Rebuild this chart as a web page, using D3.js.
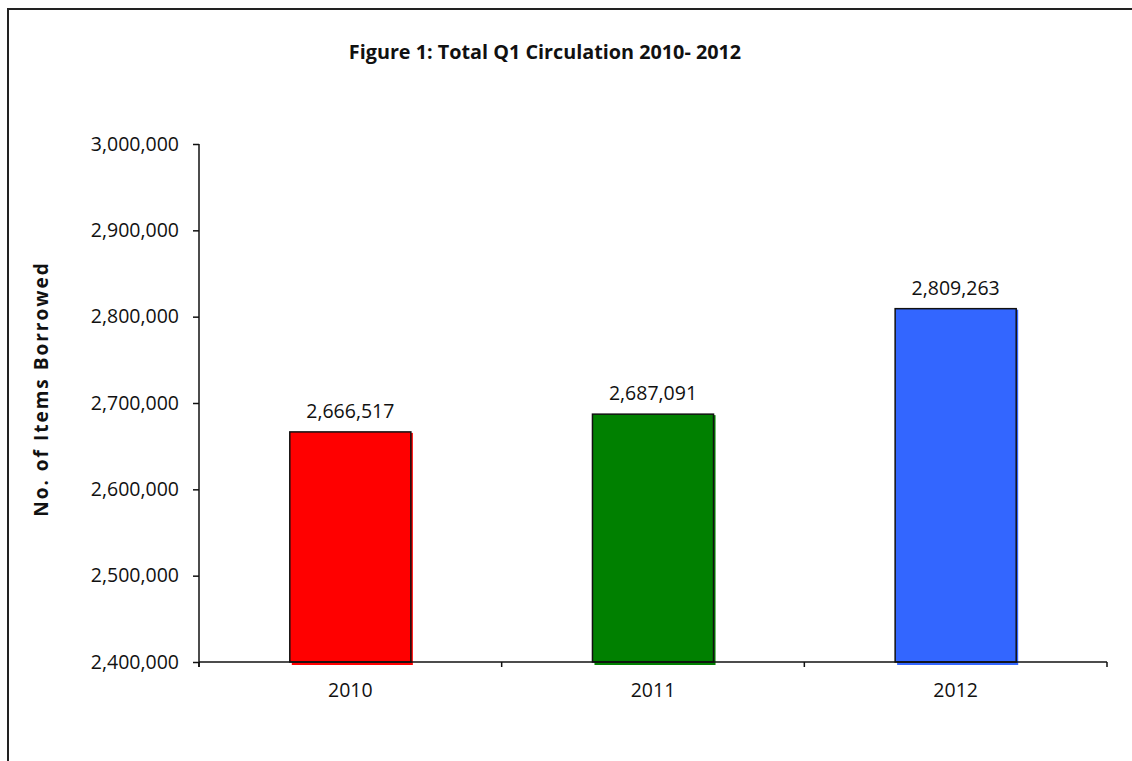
<!DOCTYPE html>
<html><head><meta charset="utf-8">
<script src="https://cdn.jsdelivr.net/npm/d3@7"></script>
<style>
html,body{margin:0;padding:0;background:#fff;}
svg{display:block;}
text{font-family:"Open Sans",sans-serif;fill:#111;}
</style></head>
<body>
<svg id="chart" width="1132" height="761"></svg>
<script>
const categories = ["2010", "2011", "2012"];
const values = [2666517, 2687091, 2809263];
const barColors = ["#FF0000", "#008000", "#3366FF"];
const yTicks = [2400000, 2500000, 2600000, 2700000, 2800000, 2900000, 3000000];
const title = "Figure 1: Total Q1 Circulation 2010- 2012";
const yTitle = "No. of Items Borrowed";

const svg = d3.select("#chart");
// outer frame (extends beyond right and bottom edges)
svg.append("rect").attr("x", 8).attr("y", 9).attr("width", 1200).attr("height", 800)
  .attr("fill", "#fff").attr("stroke", "#222").attr("stroke-width", 2);

const pLeft = 199, pRight = 1107, pTop = 144, pBottom = 662;
const x = d3.scaleBand().domain(categories).range([pLeft, pRight]).paddingInner(0.6).paddingOuter(0.3);
const xb = d3.scaleBand().domain(categories).range([pLeft, pRight]);
const y = d3.scaleLinear().domain([2400000, 3000000]).range([pBottom, pTop]);
const fmt = d3.format(",");
const fs = 19.5;

// bars
const g = svg.append("g");
categories.forEach((c, i) => {
  const x0 = x(c), w = x.bandwidth(), y0 = y(values[i]), h = pBottom - y0;
  g.append("rect").attr("x", x0 + 2).attr("y", y0 + 1).attr("width", w).attr("height", h + 2)
    .attr("fill", barColors[i]);
  g.append("rect").attr("x", x0).attr("y", y0).attr("width", w).attr("height", h)
    .attr("fill", barColors[i]).attr("stroke", "#111").attr("stroke-width", 1.5);
  g.append("text").attr("x", x0 + w / 2).attr("y", y0 - 14)
    .attr("text-anchor", "middle").attr("font-size", fs)
    .text(fmt(values[i]));
});

// y axis
const yAxis = d3.axisLeft(y).tickValues(yTicks).tickFormat(fmt).tickSize(6).tickPadding(14);
const ya = svg.append("g").attr("transform", `translate(${pLeft},0)`).call(yAxis);
ya.select(".domain").attr("stroke", "#111").attr("stroke-width", 1.5).attr("d", `M0,${pTop}V${pBottom + 5}`);
ya.selectAll(".tick line").attr("stroke", "#111").attr("stroke-width", 1.5);
ya.selectAll(".tick text").attr("font-size", fs)
  .attr("font-family", "Open Sans").attr("fill", "#111");

// x axis
const xa = svg.append("g").attr("transform", `translate(0,${pBottom})`);
xa.append("line").attr("x1", pLeft).attr("x2", pRight).attr("stroke", "#111").attr("stroke-width", 1.5);
const bounds = categories.map(c => xb(c)).concat([pRight]);
xa.selectAll("line.tk").data(bounds).enter().append("line").attr("class", "tk")
  .attr("x1", d => d).attr("x2", d => d).attr("y1", 0).attr("y2", 5)
  .attr("stroke", "#111").attr("stroke-width", 1.5);
xa.selectAll("text.lab").data(categories).enter().append("text").attr("class", "lab")
  .attr("x", d => xb(d) + xb.bandwidth() / 2).attr("y", 35)
  .attr("text-anchor", "middle").attr("font-size", fs)
  .text(d => d);

// title
svg.append("text").attr("x", 545).attr("y", 59).attr("text-anchor", "middle")
  .attr("font-size", 19.8).attr("font-weight", "bold").text(title);

// y title
svg.append("text").attr("transform", "translate(48,389) rotate(-90)")
  .attr("text-anchor", "middle").attr("font-size", 19).attr("font-weight", "bold")
  .attr("font-family", "Liberation Sans").attr("letter-spacing", 2).text(yTitle);
</script>
</body></html>
